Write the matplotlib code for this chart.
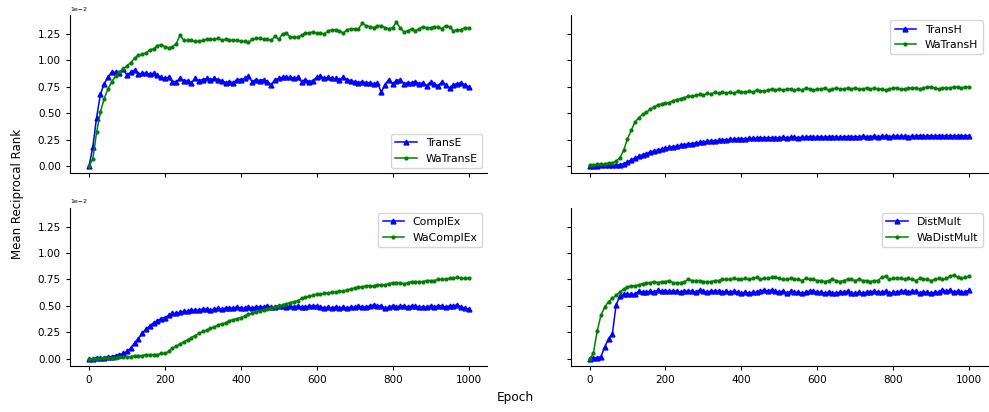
import numpy as np
import matplotlib
matplotlib.use("Agg")
import matplotlib.pyplot as plt

# Training curves: Mean Reciprocal Rank (in units of 1e-2), evaluated every 10 epochs
epochs = list(range(0, 1001, 10))

transe = [0.00, 0.18, 0.46, 0.68, 0.78, 0.84, 0.89, 0.89, 0.88, 0.92,
          0.86, 0.89, 0.91, 0.87, 0.88, 0.88, 0.87, 0.88, 0.86, 0.84,
          0.83, 0.84, 0.80, 0.80, 0.83, 0.81, 0.81, 0.79, 0.83, 0.81,
          0.82, 0.83, 0.82, 0.83, 0.82, 0.81, 0.79, 0.80, 0.79, 0.82,
          0.82, 0.83, 0.85, 0.80, 0.82, 0.81, 0.82, 0.80, 0.77, 0.82,
          0.83, 0.84, 0.84, 0.84, 0.83, 0.84, 0.80, 0.82, 0.80, 0.81,
          0.84, 0.85, 0.83, 0.84, 0.83, 0.83, 0.82, 0.84, 0.82, 0.81,
          0.80, 0.79, 0.80, 0.79, 0.79, 0.78, 0.79, 0.70, 0.77, 0.82,
          0.78, 0.81, 0.82, 0.78, 0.79, 0.79, 0.80, 0.78, 0.79, 0.76,
          0.80, 0.78, 0.76, 0.80, 0.77, 0.74, 0.77, 0.78, 0.79, 0.77,
          0.75]
watranse = [0.00, 0.07, 0.32, 0.51, 0.64, 0.73, 0.80, 0.85, 0.89, 0.92,
            0.95, 0.98, 1.02, 1.05, 1.06, 1.07, 1.10, 1.11, 1.14, 1.15,
            1.13, 1.12, 1.13, 1.16, 1.24, 1.19, 1.19, 1.19, 1.18, 1.18,
            1.19, 1.20, 1.20, 1.20, 1.21, 1.19, 1.20, 1.19, 1.19, 1.19,
            1.18, 1.18, 1.17, 1.20, 1.21, 1.21, 1.20, 1.20, 1.19, 1.23,
            1.20, 1.25, 1.26, 1.22, 1.22, 1.22, 1.24, 1.26, 1.26, 1.27,
            1.26, 1.26, 1.25, 1.28, 1.29, 1.29, 1.28, 1.26, 1.29, 1.30,
            1.30, 1.30, 1.35, 1.33, 1.32, 1.31, 1.33, 1.33, 1.31, 1.30,
            1.31, 1.36, 1.31, 1.27, 1.28, 1.30, 1.28, 1.30, 1.32, 1.31,
            1.31, 1.32, 1.32, 1.30, 1.33, 1.32, 1.28, 1.29, 1.29, 1.31,
            1.31]

transh = [0.00, 0.00, 0.00, 0.01, 0.01, 0.01, 0.01, 0.01, 0.015, 0.025,
          0.04, 0.06, 0.08, 0.095, 0.11, 0.12, 0.135, 0.145, 0.155, 0.16,
          0.17, 0.18, 0.185, 0.19, 0.20, 0.205, 0.21, 0.215, 0.22, 0.225,
          0.23, 0.235, 0.24, 0.24, 0.245, 0.25, 0.25, 0.255, 0.255, 0.26,
          0.26, 0.26, 0.265, 0.265, 0.265, 0.27, 0.265, 0.27, 0.27, 0.27,
          0.27, 0.275, 0.27, 0.275, 0.275, 0.27, 0.275, 0.275, 0.28, 0.275,
          0.275, 0.28, 0.275, 0.28, 0.28, 0.28, 0.275, 0.28, 0.28, 0.28,
          0.28, 0.28, 0.285, 0.28, 0.28, 0.285, 0.28, 0.285, 0.285, 0.28,
          0.285, 0.285, 0.285, 0.285, 0.28, 0.285, 0.285, 0.29, 0.285, 0.285,
          0.29, 0.285, 0.29, 0.285, 0.29, 0.29, 0.285, 0.29, 0.29, 0.285,
          0.29]
watransh = [0.01, 0.01, 0.02, 0.02, 0.02, 0.03, 0.03, 0.05, 0.08, 0.15,
            0.26, 0.34, 0.42, 0.46, 0.49, 0.51, 0.54, 0.56, 0.58, 0.59,
            0.60, 0.60, 0.62, 0.63, 0.64, 0.65, 0.66, 0.66, 0.67, 0.68,
            0.67, 0.69, 0.68, 0.70, 0.69, 0.70, 0.69, 0.70, 0.69, 0.71,
            0.70, 0.70, 0.71, 0.70, 0.72, 0.71, 0.71, 0.72, 0.73, 0.72,
            0.73, 0.72, 0.73, 0.73, 0.72, 0.73, 0.72, 0.74, 0.73, 0.72,
            0.73, 0.73, 0.74, 0.72, 0.73, 0.74, 0.73, 0.73, 0.74, 0.73,
            0.74, 0.73, 0.73, 0.74, 0.73, 0.74, 0.73, 0.73, 0.72, 0.73,
            0.74, 0.74, 0.73, 0.73, 0.74, 0.74, 0.74, 0.73, 0.74, 0.75,
            0.75, 0.74, 0.73, 0.74, 0.74, 0.74, 0.75, 0.75, 0.74, 0.75,
            0.75]

complex_ = [0.00, 0.00, 0.01, 0.01, 0.01, 0.02, 0.02, 0.03, 0.04, 0.05,
            0.07, 0.10, 0.15, 0.19, 0.24, 0.28, 0.31, 0.34, 0.36, 0.38,
            0.39, 0.41, 0.43, 0.43, 0.44, 0.45, 0.45, 0.46, 0.46, 0.46,
            0.47, 0.47, 0.46, 0.47, 0.48, 0.47, 0.48, 0.48, 0.48, 0.49,
            0.48, 0.48, 0.49, 0.48, 0.49, 0.49, 0.49, 0.50, 0.49, 0.49,
            0.50, 0.50, 0.49, 0.50, 0.49, 0.50, 0.49, 0.49, 0.50, 0.50,
            0.50, 0.49, 0.48, 0.49, 0.48, 0.49, 0.48, 0.49, 0.48, 0.49,
            0.49, 0.50, 0.49, 0.49, 0.50, 0.51, 0.50, 0.50, 0.48, 0.49,
            0.50, 0.49, 0.50, 0.50, 0.49, 0.50, 0.50, 0.49, 0.49, 0.49,
            0.50, 0.49, 0.50, 0.50, 0.49, 0.50, 0.50, 0.51, 0.49, 0.48,
            0.47]
wacomplex = [0.00, 0.00, 0.00, 0.01, 0.01, 0.01, 0.01, 0.01, 0.02, 0.02,
             0.02, 0.02, 0.03, 0.03, 0.03, 0.04, 0.04, 0.04, 0.04, 0.05,
             0.05, 0.07, 0.10, 0.12, 0.14, 0.16, 0.18, 0.20, 0.22, 0.24,
             0.26, 0.27, 0.29, 0.30, 0.32, 0.33, 0.34, 0.36, 0.37, 0.38,
             0.39, 0.40, 0.42, 0.43, 0.44, 0.45, 0.46, 0.47, 0.48, 0.49,
             0.50, 0.51, 0.52, 0.53, 0.54, 0.55, 0.57, 0.58, 0.59, 0.60,
             0.61, 0.61, 0.62, 0.62, 0.63, 0.63, 0.64, 0.64, 0.65, 0.66,
             0.67, 0.68, 0.68, 0.69, 0.69, 0.69, 0.70, 0.70, 0.70, 0.71,
             0.72, 0.72, 0.72, 0.71, 0.72, 0.73, 0.73, 0.73, 0.73, 0.74,
             0.74, 0.74, 0.75, 0.75, 0.75, 0.76, 0.76, 0.77, 0.76, 0.76,
             0.76]

distmult = [0.00, 0.01, 0.01, 0.02, 0.11, 0.19, 0.23, 0.51, 0.59, 0.61,
            0.61, 0.61, 0.61, 0.64, 0.63, 0.63, 0.64, 0.63, 0.65, 0.64,
            0.64, 0.64, 0.64, 0.64, 0.63, 0.64, 0.64, 0.64, 0.63, 0.65,
            0.64, 0.63, 0.64, 0.64, 0.64, 0.63, 0.64, 0.63, 0.64, 0.63,
            0.62, 0.63, 0.62, 0.63, 0.63, 0.64, 0.65, 0.64, 0.65, 0.64,
            0.63, 0.64, 0.62, 0.64, 0.63, 0.63, 0.62, 0.63, 0.64, 0.64,
            0.63, 0.63, 0.62, 0.63, 0.62, 0.62, 0.63, 0.63, 0.64, 0.62,
            0.62, 0.63, 0.62, 0.63, 0.63, 0.64, 0.63, 0.63, 0.64, 0.62,
            0.63, 0.63, 0.64, 0.64, 0.63, 0.64, 0.64, 0.62, 0.63, 0.63,
            0.62, 0.63, 0.63, 0.65, 0.64, 0.65, 0.63, 0.64, 0.63, 0.63,
            0.65]
wadistmult = [0.00, 0.05, 0.26, 0.41, 0.49, 0.54, 0.57, 0.60, 0.63, 0.66,
              0.68, 0.69, 0.69, 0.70, 0.71, 0.72, 0.72, 0.73, 0.72, 0.73,
              0.73, 0.74, 0.72, 0.72, 0.72, 0.73, 0.75, 0.74, 0.74, 0.74,
              0.73, 0.73, 0.73, 0.74, 0.74, 0.75, 0.75, 0.75, 0.76, 0.75,
              0.75, 0.76, 0.75, 0.76, 0.77, 0.75, 0.76, 0.76, 0.77, 0.77,
              0.76, 0.75, 0.75, 0.76, 0.75, 0.75, 0.74, 0.76, 0.75, 0.75,
              0.74, 0.74, 0.73, 0.74, 0.75, 0.74, 0.73, 0.74, 0.75, 0.75,
              0.74, 0.75, 0.74, 0.74, 0.73, 0.74, 0.74, 0.77, 0.78, 0.75,
              0.76, 0.76, 0.76, 0.75, 0.76, 0.75, 0.74, 0.76, 0.75, 0.75,
              0.74, 0.75, 0.76, 0.75, 0.76, 0.78, 0.79, 0.77, 0.76, 0.77,
              0.78]

panels = [
    ("TransE", transe, "WaTransE", watranse, "lower right"),
    ("TransH", transh, "WaTransH", watransh, "upper right"),
    ("ComplEx", complex_, "WaComplEx", wacomplex, "upper right"),
    ("DistMult", distmult, "WaDistMult", wadistmult, "upper right"),
]

fig, axes = plt.subplots(2, 2, sharex=True, sharey=True, figsize=(9.89, 4.12), dpi=100)
fig.subplots_adjust(left=0.0708, right=0.999, top=0.9636, bottom=0.1117,
                    wspace=0.199, hspace=0.215)

x = np.array(epochs)
for ax, (base_name, base_vals, wa_name, wa_vals, loc) in zip(axes.flat, panels):
    ax.plot(x, np.array(base_vals) * 1e-2, color="blue", marker="^",
            markersize=3.5, linewidth=1.1, label=base_name)
    ax.plot(x, np.array(wa_vals) * 1e-2, color="green", marker=".",
            markersize=4, linewidth=1.1, label=wa_name)
    ax.spines["top"].set_visible(False)
    ax.spines["right"].set_visible(False)
    ax.tick_params(labelsize=7.5, length=3)
    ax.legend(loc=loc, fontsize=7.8)

axes[0, 0].ticklabel_format(axis="y", style="sci", scilimits=(0, 0))
axes[0, 0].set_ylim(-0.068e-2, 1.43e-2)
axes[0, 0].set_xlim(-50, 1050)
for ax in axes[:, 0]:
    ax.yaxis.get_offset_text().set_fontsize(4.5)

fig.text(18 / 989, 0.529, "Mean Reciprocal Rank", rotation=90,
         ha="center", va="center", fontsize=8.5)
fig.text(0.521, 0.036, "Epoch", ha="center", va="center", fontsize=8.7)

fig.savefig("out.png", dpi=100)
